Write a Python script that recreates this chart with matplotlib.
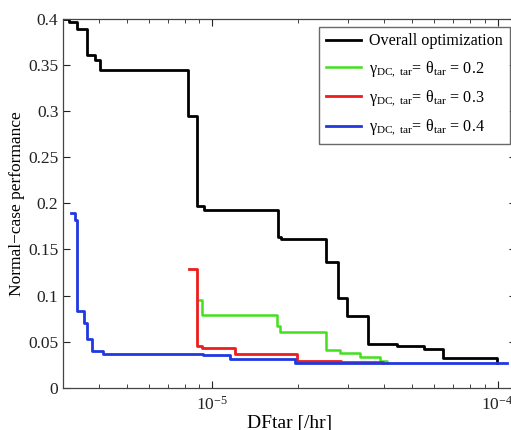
import matplotlib
matplotlib.use("Agg")
import matplotlib.pyplot as plt
from matplotlib.ticker import FixedLocator, LogLocator

plt.rcParams['font.family'] = ['Liberation Serif', 'DejaVu Serif']
plt.rcParams['mathtext.fontset'] = 'stix'

# ---- data ----
overall_x = [3.0e-6, 3.15e-6, 3.34e-6, 3.62e-6, 3.86e-6, 4.05e-6, 8.21e-6, 8.86e-6,
             9.32e-6, 1.692e-5, 1.733e-5, 2.50e-5, 2.762e-5, 2.956e-5, 3.52e-5,
             4.43e-5, 5.53e-5, 6.46e-5, 9.95e-5]
overall_y = [0.400, 0.397, 0.389, 0.361, 0.355, 0.345, 0.295, 0.1975,
             0.193, 0.1635, 0.161, 0.136, 0.097, 0.078, 0.0474,
             0.0456, 0.042, 0.0322, 0.027]

g02_x = [8.95e-6, 9.22e-6, 1.686e-5, 1.73e-5, 2.495e-5, 2.80e-5, 3.29e-5, 3.87e-5, 4.09e-5]
g02_y = [0.0955, 0.0785, 0.0665, 0.060, 0.041, 0.0375, 0.0333, 0.0295, 0.0270]

g03_x = [8.26e-6, 8.86e-6, 9.22e-6, 1.198e-5, 1.982e-5, 2.823e-5, 3.97e-5]
g03_y = [0.129, 0.0448, 0.043, 0.0366, 0.0293, 0.0275, 0.0270]

g04_x = [3.2e-6, 3.31e-6, 3.355e-6, 3.56e-6, 3.62e-6, 3.79e-6, 4.12e-6, 9.25e-6,
         1.15e-5, 1.945e-5, 1.08e-4]
g04_y = [0.1895, 0.182, 0.0828, 0.070, 0.0528, 0.0394, 0.0369, 0.035,
         0.031, 0.0268, 0.0268]

labels = ['Overall optimization',
          r'$\mathregular{\gamma_{DC,\ tar}\!=\,\theta_{tar}\,=\,0.2}$',
          r'$\mathregular{\gamma_{DC,\ tar}\!=\,\theta_{tar}\,=\,0.3}$',
          r'$\mathregular{\gamma_{DC,\ tar}\!=\,\theta_{tar}\,=\,0.4}$']
yticks = [0, 0.05, 0.1, 0.15, 0.2, 0.25, 0.3, 0.35, 0.4]
ytick_labels = ['0', '0.05', '0.1', '0.15', '0.2', '0.25', '0.3', '0.35', '0.4']

fig = plt.figure(figsize=(5.11, 4.30), dpi=100)
ax = fig.add_axes([63.3 / 511, 42.3 / 430, (516 - 63.3) / 511, (387.7 - 19) / 430])

ax.step(overall_x, overall_y, where='post', color='black', lw=2.0, label=labels[0])
ax.step(g02_x, g02_y, where='post', color='#44e01e', lw=1.8, label=labels[1])
ax.step(g03_x, g03_y, where='post', color='#ee1c1c', lw=2.0, label=labels[2])
ax.step(g04_x, g04_y, where='post', color='#2038e0', lw=2.0, label=labels[3])

ax.set_xscale('log')
ax.set_xlim(3.0e-6, 1.16e-4)
ax.set_ylim(0, 0.4)
ax.yaxis.set_major_locator(FixedLocator(yticks))
ax.set_yticklabels(ytick_labels)
ax.xaxis.set_major_locator(LogLocator(base=10))
ax.xaxis.set_minor_locator(LogLocator(base=10, subs=range(2, 10)))

ax.tick_params(which='both', direction='in', top=True, right=True, labelsize=12.5,
               colors='#222222')
ax.tick_params(axis='x', which='major', pad=6)
ax.tick_params(which='major', length=5)
ax.tick_params(which='minor', length=3)
for s in ax.spines.values():
    s.set_color('#444444')
    s.set_linewidth(0.9)

ax.set_xlabel('DFtar [/hr]', fontsize=14, labelpad=1)
ax.set_ylabel('Normal\u2212case performance', fontsize=12.5, labelpad=2)

leg = ax.legend(loc='upper right', bbox_to_anchor=(509.5 / 511, 403.3 / 430),
                bbox_transform=fig.transFigure, fontsize=11.6, frameon=True, fancybox=False,
                edgecolor='#444444', handlelength=2.2, handletextpad=0.5,
                labelspacing=0.6, borderpad=0.4, borderaxespad=0)
leg.get_frame().set_linewidth(1.0)

fig.savefig('out.png', dpi=100)
